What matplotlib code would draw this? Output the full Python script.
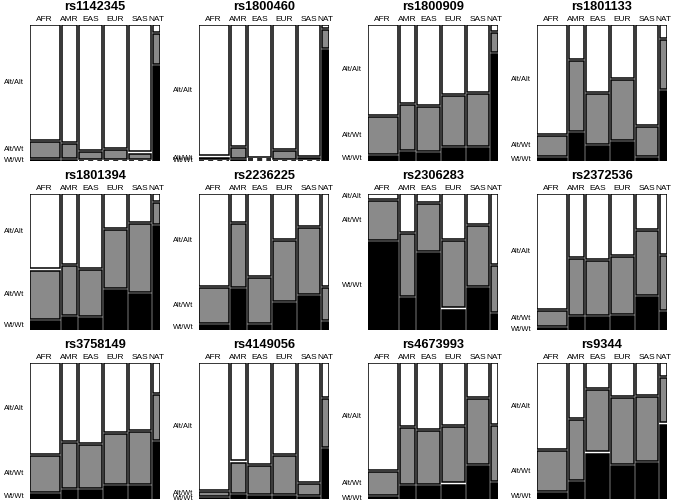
import matplotlib
matplotlib.use("Agg")
import matplotlib.pyplot as plt
from matplotlib.patches import Rectangle
import numpy as np

plt.rcParams['font.family'] = ['Liberation Sans', 'DejaVu Sans']

snps = ["rs1142345", "rs1800460", "rs1800909", "rs1801133",
        "rs1801394", "rs2236225", "rs2306283", "rs2372536",
        "rs3758149", "rs4149056", "rs4673993", "rs9344"]
pops = ["AFR", "AMR", "EAS", "EUR", "SAS", "NAT"]
pop_sizes = [661, 347, 504, 503, 489, 157]
genotypes = ["Wt/Wt", "Alt/Wt", "Alt/Alt"]

# genotype frequencies per SNP (rows) and population (columns)
wt_wt = [
    [0.01, 0.01, 0.0, 0.0, 0.0, 0.72],
    [0.0, 0.01, 0.0, 0.0, 0.0, 0.845],
    [0.04, 0.065, 0.06, 0.095, 0.095, 0.81],
    [0.02, 0.215, 0.115, 0.145, 0.02, 0.53],
    [0.065, 0.095, 0.09, 0.305, 0.27, 0.79],
    [0.035, 0.31, 0.035, 0.205, 0.255, 0.06],
    [0.67, 0.245, 0.585, 0.155, 0.32, 0.12],
    [0.015, 0.10, 0.095, 0.105, 0.25, 0.135],
    [0.04, 0.065, 0.065, 0.095, 0.095, 0.435],
    [0.01, 0.03, 0.025, 0.025, 0.015, 0.38],
    [0.015, 0.10, 0.10, 0.11, 0.25, 0.12],
    [0.045, 0.13, 0.345, 0.25, 0.275, 0.565],
]
alt_wt = [
    [0.12, 0.10, 0.05, 0.065, 0.04, 0.23],
    [0.01, 0.07, 0.0, 0.06, 0.005, 0.135],
    [0.28, 0.345, 0.335, 0.38, 0.395, 0.145],
    [0.155, 0.525, 0.375, 0.455, 0.22, 0.375],
    [0.37, 0.375, 0.35, 0.44, 0.515, 0.16],
    [0.265, 0.48, 0.34, 0.455, 0.50, 0.24],
    [0.29, 0.465, 0.355, 0.505, 0.455, 0.35],
    [0.115, 0.425, 0.41, 0.435, 0.485, 0.41],
    [0.27, 0.345, 0.33, 0.38, 0.395, 0.335],
    [0.025, 0.23, 0.21, 0.285, 0.08, 0.36],
    [0.175, 0.425, 0.40, 0.42, 0.49, 0.415],
    [0.30, 0.45, 0.465, 0.50, 0.485, 0.335],
]
alt_alt = [
    [0.87, 0.89, 0.95, 0.935, 0.96, 0.05],
    [0.99, 0.92, 1.0, 0.94, 0.995, 0.02],
    [0.68, 0.59, 0.605, 0.525, 0.51, 0.045],
    [0.825, 0.26, 0.51, 0.40, 0.76, 0.095],
    [0.565, 0.53, 0.56, 0.255, 0.215, 0.05],
    [0.70, 0.21, 0.625, 0.34, 0.245, 0.70],
    [0.04, 0.29, 0.06, 0.34, 0.225, 0.53],
    [0.87, 0.475, 0.495, 0.46, 0.265, 0.455],
    [0.69, 0.59, 0.605, 0.525, 0.51, 0.23],
    [0.965, 0.74, 0.765, 0.69, 0.905, 0.26],
    [0.81, 0.475, 0.50, 0.47, 0.26, 0.465],
    [0.655, 0.42, 0.19, 0.25, 0.24, 0.10],
]

fills = ["black", "#8a8a8a", "white"]
W, H = 673, 503
XGAP, YGAP = 0.017, 0.016


def mosaic(ax, k):
    sizes = np.array(pop_sizes, dtype=float)
    widths = sizes / sizes.sum() * (1 - XGAP * (len(pops) - 1))
    x = 0.0
    first_centers = []
    for j, pop in enumerate(pops):
        props = np.array([wt_wt[k][j], alt_wt[k][j], alt_alt[k][j]])
        props = props / props.sum() * (1 - YGAP * 2)
        y = 0.0
        for g, p in enumerate(props):
            if p <= 0:
                ax.plot([x, x + widths[j]], [y, y], color="black", lw=1.2,
                        ls=(0, (3, 2.5)), solid_capstyle="butt")
            else:
                ax.add_patch(Rectangle((x, y), widths[j], p, facecolor=fills[g],
                                       edgecolor="black", lw=1.1))
            if j == 0:
                first_centers.append(y + p / 2)
            y += p + YGAP
        ax.text(x + widths[j] / 2, 1.04, pop, ha="center", va="center", fontsize=6)
        x += widths[j] + XGAP
    for g, yc in enumerate(first_centers):
        ax.text(-0.045, yc, genotypes[g], ha="right", va="center", fontsize=5.4)
    ax.text(0.5, 1.135, snps[k], ha="center", va="center", fontsize=9.2, fontweight="bold")


fig = plt.figure(figsize=(W / 100, H / 100), dpi=100)
for k in range(len(snps)):
    r, c = divmod(k, 4)
    left = 30 + 169 * c
    top = 25 + 169 * r
    ax = fig.add_axes([left / W, (H - top - 136) / H, 130 / W, 136 / H])
    ax.set_xlim(0, 1)
    ax.set_ylim(0, 1)
    ax.axis("off")
    mosaic(ax, k)

fig.savefig("out.png", dpi=100)
